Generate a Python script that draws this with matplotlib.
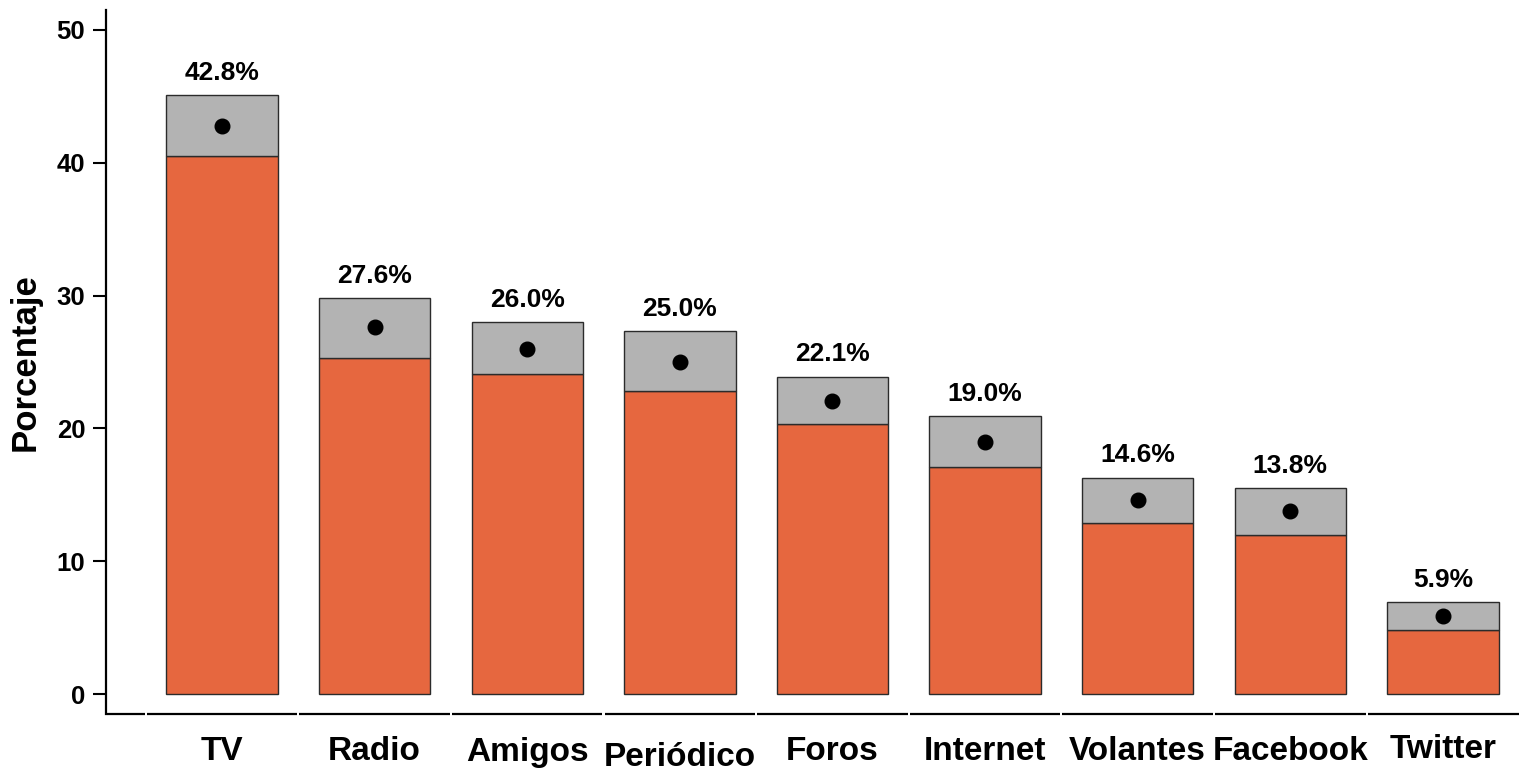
import matplotlib
matplotlib.use('Agg')
import matplotlib.pyplot as plt

plt.rcParams['font.family'] = ['Liberation Sans', 'DejaVu Sans']
plt.rcParams['font.weight'] = 'bold'

# datos: estimación puntual e intervalo (inferior / superior)
categorias = ['TV', 'Radio', 'Amigos', 'Periódico', 'Foros', 'Internet',
              'Volantes', 'Facebook', 'Twitter']
estimado = [42.8, 27.6, 26.0, 25.0, 22.1, 19.0, 14.6, 13.8, 5.9]
inferior = [40.5, 25.3, 24.1, 22.8, 20.3, 17.1, 12.9, 12.0, 4.8]
superior = [45.1, 29.8, 28.0, 27.3, 23.9, 20.9, 16.3, 15.5, 6.9]
# pequeño desplazamiento vertical de algunas etiquetas (px)
desplaz = [0, 0, 0, 6, 0, 0, 0, 0, -3]

naranja = '#E6673F'
gris = '#B3B3B3'
borde = '#2b2b2b'

fig = plt.figure(figsize=(15.2, 7.73), dpi=100)
ax = fig.add_axes([106 / 1520, 59 / 773, 1414 / 1520, 704 / 773])

x = list(range(len(categorias)))
ancho = 0.73
ax.bar(x, inferior, width=ancho, color=naranja, edgecolor=borde, linewidth=1)
alto_ic = [s - i for s, i in zip(superior, inferior)]
ax.bar(x, alto_ic, bottom=inferior, width=ancho, color=gris, edgecolor=borde,
       linewidth=1)
ax.plot(x, estimado, 'o', color='black', markersize=10.5, zorder=5)

for xi, est, sup in zip(x, estimado, superior):
    ax.annotate(f'{est:.1f}%', (xi, sup), xytext=(0, 16), textcoords='offset points',
                ha='center', va='center', fontsize=19, fontweight='bold')

xmin, xmax = -0.76, 8.505
ax.set_xlim(xmin, xmax)
ax.set_ylim(-1.5, 51.5)
ax.set_yticks([0, 10, 20, 30, 40, 50])
ax.tick_params(axis='y', labelsize=18.5, length=9.5, width=1.5, pad=5.5)
for lab in ax.get_yticklabels():
    lab.set_fontweight('bold')
ax.set_xticks([])

for s in ['top', 'right', 'bottom']:
    ax.spines[s].set_visible(False)
ax.spines['left'].set_linewidth(1.6)

# eje x en segmentos, uno por categoría
gap = 0.007
limites = [xmin, -0.5] + [i + 0.5 for i in x]
limites[-1] = xmax
for a, b in zip(limites[:-1], limites[1:]):
    ax.plot([a + gap, b - gap], [-1.5, -1.5], color='black', linewidth=1.6,
            clip_on=False, solid_capstyle='butt')

# etiquetas del eje x
for xi, cat, d in zip(x, categorias, desplaz):
    ax.annotate(cat, (xi, -1.5), xycoords='data', xytext=(0, -(38 + d) * 0.72),
                textcoords='offset points', ha='center', va='center',
                fontsize=24, fontweight='bold', annotation_clip=False)

fig.text(25 / 1520, 1 - 362 / 773, 'Porcentaje', rotation=90, ha='center',
         va='center', fontsize=25, fontweight='bold')

fig.savefig('out.png', dpi=100)
